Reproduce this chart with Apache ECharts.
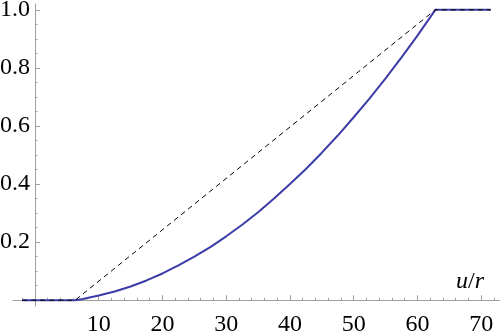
<!DOCTYPE html>
<html>
<head>
<meta charset="utf-8">
<script src="https://cdn.jsdelivr.net/npm/echarts@6/dist/echarts.min.js"></script>
<style>
  html, body { margin: 0; padding: 0; background: #fff; }
  #container { width: 500px; height: 332px; }
</style>
</head>
<body>
<div id="container"></div>
<script>
// data
var curveX = [-2, 6.3, 7.5, 10, 12.5, 15, 17.5, 20, 22.5, 25, 27.5, 30, 32.5, 35, 37.5, 40, 42.5, 45, 47.5, 50, 52.5, 55, 57.5, 60, 62.8, 71.5];
var curveY = [0, 0, 0.004, 0.016, 0.030, 0.047, 0.068, 0.092, 0.12, 0.15, 0.183, 0.22, 0.26, 0.303, 0.35, 0.40, 0.452, 0.508, 0.567, 0.63, 0.695, 0.764, 0.836, 0.911, 1, 1];
var dashX = [-2, 6.3, 62.8, 71.5];
var dashY = [0, 0, 1, 1];
var xMajor = [10, 20, 30, 40, 50, 60, 70];
var xMinor = [-2, 2, 4, 6, 8, 12, 14, 16, 18, 22, 24, 26, 28, 32, 34, 36, 38, 42, 44, 46, 48, 52, 54, 56, 58, 62, 64, 66, 68, 72];
var yMajor = [0.2, 0.4, 0.6, 0.8, 1.0];
var yMinor = [0.05, 0.1, 0.15, 0.25, 0.3, 0.35, 0.45, 0.5, 0.55, 0.65, 0.7, 0.75, 0.85, 0.9, 0.95];

function pairs(xs, ys) {
  var out = [];
  for (var i = 0; i < xs.length; i++) out.push([xs[i], ys[i]]);
  return out;
}

var axisGray = '#a0a0a0';
var font = '"Liberation Serif", "DejaVu Serif", serif';
var xMin = -3.45, xMax = 72.95, yMin = -0.02, yMax = 1.02;

var dom = document.getElementById('container');
var myChart = echarts.init(dom, null, { renderer: 'canvas' });
var option = {
  animation: false,
  grid: [
    // plot area
    { left: 13, right: 0, top: 4, bottom: 26, outerBoundsMode: 'none', containLabel: false },
    // only used for the y labels, its left edge sits at x = 0
    { left: 35, right: 0, top: 4, bottom: 26, outerBoundsMode: 'none', containLabel: false }
  ],
  xAxis: [
    {
      type: 'value', gridIndex: 0, min: xMin, max: xMax,
      axisLine: { show: true, onZero: true, lineStyle: { color: axisGray, width: 1 } },
      axisTick: { show: true, inside: true, length: 5, customValues: xMajor, lineStyle: { color: axisGray } },
      axisLabel: { customValues: xMajor, color: '#000', fontFamily: font, fontSize: 24, margin: 7 },
      splitLine: { show: false }
    },
    {
      type: 'value', gridIndex: 0, min: xMin, max: xMax, position: 'bottom',
      axisLine: { show: false, onZero: true },
      axisTick: { show: true, inside: true, length: 2.5, customValues: xMinor, lineStyle: { color: axisGray } },
      axisLabel: { show: false },
      splitLine: { show: false }
    },
    {
      type: 'value', gridIndex: 1, min: 0, max: 1, show: false
    }
  ],
  yAxis: [
    {
      type: 'value', gridIndex: 0, min: yMin, max: yMax,
      axisLine: { show: true, onZero: true, lineStyle: { color: axisGray, width: 1 } },
      axisTick: { show: true, inside: true, length: 5, customValues: yMajor, lineStyle: { color: axisGray } },
      axisLabel: { show: false },
      splitLine: { show: false }
    },
    {
      type: 'value', gridIndex: 0, min: yMin, max: yMax, position: 'left',
      axisLine: { show: false, onZero: true },
      axisTick: { show: true, inside: true, length: 2.5, customValues: yMinor, lineStyle: { color: axisGray } },
      axisLabel: { show: false },
      splitLine: { show: false }
    },
    {
      type: 'value', gridIndex: 1, min: yMin, max: yMax,
      axisLine: { show: false, onZero: false },
      axisTick: { show: false },
      axisLabel: { customValues: yMajor, color: '#000', fontFamily: font, fontSize: 24, margin: 5,
        formatter: function (v) { return v.toFixed(1); } },
      splitLine: { show: false }
    }
  ],
  graphic: [
    { type: 'text', left: 456, top: 270,
      style: {
        text: '{i|u}/{i|r}', fontFamily: font, fontSize: 24, fill: '#000',
        rich: { i: { fontFamily: font, fontStyle: 'italic', fontSize: 24 } }
      } }
  ],
  series: [
    {
      type: 'line', xAxisIndex: 0, yAxisIndex: 0, data: pairs(curveX, curveY), showSymbol: false,
      lineStyle: { color: '#3c3ca8', width: 2 }
    },
    {
      type: 'line', xAxisIndex: 0, yAxisIndex: 0, data: pairs(dashX, dashY), showSymbol: false,
      lineStyle: { color: '#000', width: 1, type: [5, 4] }
    }
  ]
};
myChart.setOption(option);
</script>
</body>
</html>
